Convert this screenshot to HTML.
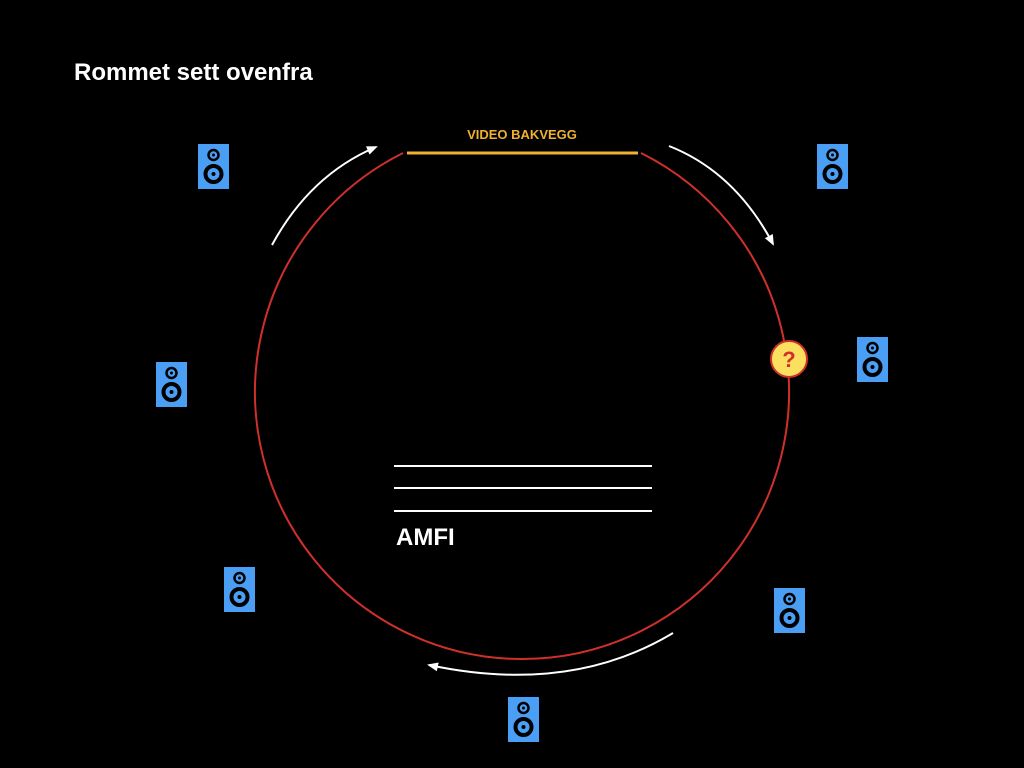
<!DOCTYPE html>
<html><head><style>body{margin:0;background:#000;}svg{display:block}</style></head><body>
<svg width="1024" height="768" viewBox="0 0 1024 768" xmlns="http://www.w3.org/2000/svg">
<defs>
<marker id="ah" markerWidth="12" markerHeight="12" refX="9" refY="6" orient="auto" markerUnits="userSpaceOnUse">
<path d="M0,1.5 L11,6 L0,10.5 Z" fill="#fff"/></marker>
<g id="spk">
<rect x="0" y="0" width="31" height="45" fill="#4a9ff5"/>
<circle cx="15.5" cy="11" r="5" fill="none" stroke="#000" stroke-width="2.5"/>
<circle cx="15.5" cy="11" r="1.5" fill="#000"/>
<circle cx="15.5" cy="30" r="8" fill="none" stroke="#000" stroke-width="4"/>
<circle cx="15.5" cy="30" r="2" fill="#000"/>
</g>
</defs>
<rect width="1024" height="768" fill="#000"/>
<text x="74" y="80" fill="#fff" font-family="Liberation Sans, sans-serif" font-weight="bold" font-size="24">Rommet sett ovenfra</text>
<path d="M641,153 A267,267 0 1 1 403,153" fill="none" stroke="#d0302a" stroke-width="2"/>
<line x1="407" y1="153" x2="638" y2="153" stroke="#f0b030" stroke-width="3"/>
<text x="522" y="139" fill="#f0b030" font-family="Liberation Sans, sans-serif" font-weight="bold" font-size="13" text-anchor="middle">VIDEO BAKVEGG</text>
<path d="M272,245 Q310,175 376,147" fill="none" stroke="#fff" stroke-width="2" marker-end="url(#ah)"/>
<path d="M669,146 Q735,172 773,244" fill="none" stroke="#fff" stroke-width="2" marker-end="url(#ah)"/>
<path d="M673,633 Q570,695 429,665" fill="none" stroke="#fff" stroke-width="2" marker-end="url(#ah)"/>
<line x1="394" y1="466" x2="652" y2="466" stroke="#fff" stroke-width="2"/>
<line x1="394" y1="488" x2="652" y2="488" stroke="#fff" stroke-width="2"/>
<line x1="394" y1="511" x2="652" y2="511" stroke="#fff" stroke-width="2"/>
<text x="396" y="545" fill="#fff" font-family="Liberation Sans, sans-serif" font-weight="bold" font-size="24">AMFI</text>
<circle cx="789" cy="359" r="18" fill="#fbe060" stroke="#d0302a" stroke-width="2"/>
<text x="789" y="367" fill="#d0302a" font-family="Liberation Sans, sans-serif" font-weight="bold" font-size="22" text-anchor="middle">?</text>
<use href="#spk" x="198" y="144"/>
<use href="#spk" x="817" y="144"/>
<use href="#spk" x="857" y="337"/>
<use href="#spk" x="156" y="362"/>
<use href="#spk" x="224" y="567"/>
<use href="#spk" x="774" y="588"/>
<use href="#spk" x="508" y="697"/>
</svg>
</body></html>
